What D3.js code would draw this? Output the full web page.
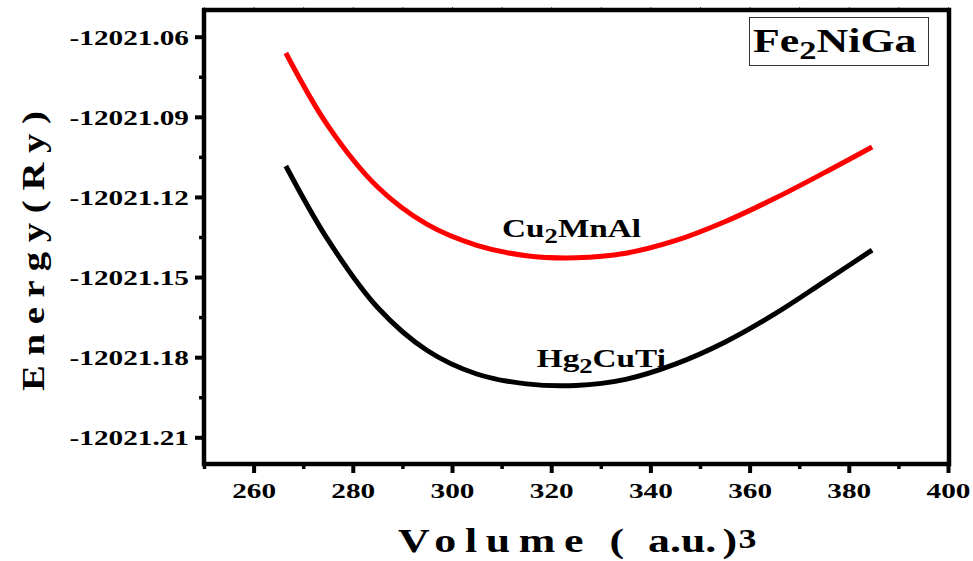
<!DOCTYPE html>
<html>
<head>
<meta charset="utf-8">
<script src="https://cdn.jsdelivr.net/npm/d3@7/dist/d3.min.js"></script>
<style>
  html, body { margin: 0; padding: 0; background: #fff; }
  svg text { font-family: "Liberation Serif", "Times New Roman", serif; font-weight: bold; fill: #000; }
</style>
</head>
<body>
<svg id="chart" width="973" height="561"></svg>
<script>
// Total energy vs. cell volume for Fe2NiGa in two structure types
const volumes = [266.5, 275, 285, 295, 305, 315, 325, 335, 345, 355, 365, 375, 384.7];
const energyCu2MnAl = [-12021.0661, -12021.0934, -12021.1163, -12021.1303, -12021.1381,
                       -12021.1420, -12021.1428, -12021.1411, -12021.1364, -12021.1293,
                       -12021.1206, -12021.1110, -12021.1013];
const energyHg2CuTi = [-12021.1084, -12021.1361, -12021.1614, -12021.1775, -12021.1863,
                       -12021.1900, -12021.1906, -12021.1883, -12021.1826, -12021.1744,
                       -12021.1639, -12021.1518, -12021.1399];
const xTicks = [260, 280, 300, 320, 340, 360, 380, 400];
const xMinorTicks = [250, 270, 290, 310, 330, 350, 370, 390];
const yTicks = [-12021.21, -12021.18, -12021.15, -12021.12, -12021.09, -12021.06];
const yMinorTicks = [-12021.195, -12021.165, -12021.135, -12021.105, -12021.075];

const SX = 1.33; // horizontal glyph stretch used for all labels

const svg = d3.select("#chart");
const plotL = 204, plotR = 948, plotT = 10, plotB = 464;

const x = d3.scaleLinear().domain([250, 400]).range([plotL, plotR]);
const y = d3.scaleLinear().domain([-12021.22, -12021.05]).range([plotB, plotT]);

// Curves
const line = d3.line()
  .x(d => x(d[0]))
  .y(d => y(d[1]))
  .curve(d3.curveCatmullRom.alpha(0.5));

const series = [
  { values: energyCu2MnAl, color: "#ff0000" },
  { values: energyHg2CuTi, color: "#000000" }
];
svg.selectAll("path.curve")
  .data(series)
  .join("path")
  .attr("class", "curve")
  .attr("fill", "none")
  .attr("stroke", d => d.color)
  .attr("stroke-width", 5)
  .attr("d", d => line(volumes.map((v, i) => [v, d.values[i]])));

// Top axis: small marks only
const topAxis = svg.append("g").attr("transform", `translate(0,${plotT})`)
  .call(d3.axisTop(x).tickValues(d3.range(250, 401, 10)).tickSize(3).tickFormat(""));
topAxis.select(".domain").remove();
topAxis.selectAll(".tick line").attr("stroke", "#666").attr("stroke-width", 1);

// Frame
svg.append("rect")
  .attr("x", plotL).attr("y", plotT)
  .attr("width", plotR - plotL + 1).attr("height", plotB - plotT)
  .attr("fill", "none").attr("stroke", "#000").attr("stroke-width", 4.5);

// Bottom axis: major ticks with labels, minor ticks
const xAxisG = svg.append("g").attr("transform", `translate(0,${plotB})`);
xAxisG.append("g")
  .call(d3.axisBottom(x).tickValues(xMinorTicks).tickSize(5).tickFormat(""))
  .call(g => g.select(".domain").remove())
  .selectAll(".tick line").attr("stroke", "#000").attr("stroke-width", 3.5);
const xMajor = xAxisG.append("g")
  .call(d3.axisBottom(x).tickValues(xTicks).tickSize(9).tickFormat(d => String(d)))
  .call(g => g.select(".domain").remove());
xMajor.selectAll(".tick line").attr("stroke", "#000").attr("stroke-width", 4);
xMajor.selectAll(".tick text")
  .attr("y", 0).attr("dy", 0)
  .attr("transform", `translate(0,34) scale(${SX},1)`)
  .attr("font-size", 22)
  .attr("text-anchor", "middle");

// Left axis
const yAxisG = svg.append("g").attr("transform", `translate(${plotL},0)`);
yAxisG.append("g")
  .call(d3.axisLeft(y).tickValues(yMinorTicks).tickSize(5).tickFormat(""))
  .call(g => g.select(".domain").remove())
  .selectAll(".tick line").attr("stroke", "#000").attr("stroke-width", 3.5);
const yMajor = yAxisG.append("g")
  .call(d3.axisLeft(y).tickValues(yTicks).tickSize(9).tickFormat(d => d.toFixed(2)))
  .call(g => g.select(".domain").remove());
yMajor.selectAll(".tick line").attr("stroke", "#000").attr("stroke-width", 4);
yMajor.selectAll(".tick text")
  .attr("x", 0).attr("dy", "0.35em")
  .attr("transform", `translate(-15,0) scale(${SX},1)`)
  .attr("font-size", 22)
  .attr("text-anchor", "end");

// Axis titles
svg.append("text")
  .attr("transform", `translate(44,251) rotate(-90)`)
  .attr("text-anchor", "middle")
  .attr("font-size", 32)
  .attr("textLength", 280)
  .attr("lengthAdjust", "spacingAndGlyphs")
  .text("E n e r g y ( R y )");

const xTitle = svg.append("text")
  .attr("transform", `translate(398,552) scale(${SX},1)`)
  .attr("font-size", 33);
xTitle.append("tspan").attr("x", 0).attr("letter-spacing", 6.5).text("Volume");
xTitle.append("tspan").attr("x", 159).attr("letter-spacing", 0).text("(");
xTitle.append("tspan").attr("x", 188).text("a.u.");
xTitle.append("tspan").attr("x", 244).text(")");
xTitle.append("tspan").attr("x", 256).attr("dy", -4).attr("font-size", 27).text("3");

// Curve labels with large subscripts
function formula(parts, px, py, size, subSize) {
  const t = svg.append("text")
    .attr("transform", `translate(${px},${py}) scale(${SX},1)`)
    .attr("font-size", size);
  parts.forEach(p => {
    if (p.sub) {
      t.append("tspan").attr("font-size", subSize).attr("dy", p.shift).text(p.text);
    } else {
      t.append("tspan").attr("dy", p.back || 0).text(p.text);
    }
  });
  return t;
}
formula([{ text: "Cu" }, { text: "2", sub: true, shift: 6 }, { text: "MnAl", back: -6 }],
        x(310.1), y(-12021.135), 25, 20);
formula([{ text: "Hg" }, { text: "2", sub: true, shift: 6 }, { text: "CuTi", back: -6 }],
        x(317.1), y(-12021.1837), 25, 20);

// Compound name box
svg.append("rect")
  .attr("x", 749.5).attr("y", 17.5).attr("width", 179).attr("height", 48)
  .attr("fill", "#fff").attr("stroke", "#333").attr("stroke-width", 1);
formula([{ text: "Fe" }, { text: "2", sub: true, shift: 7 }, { text: "NiGa", back: -7 }],
        753, 52, 33, 26);
</script>
</body>
</html>
